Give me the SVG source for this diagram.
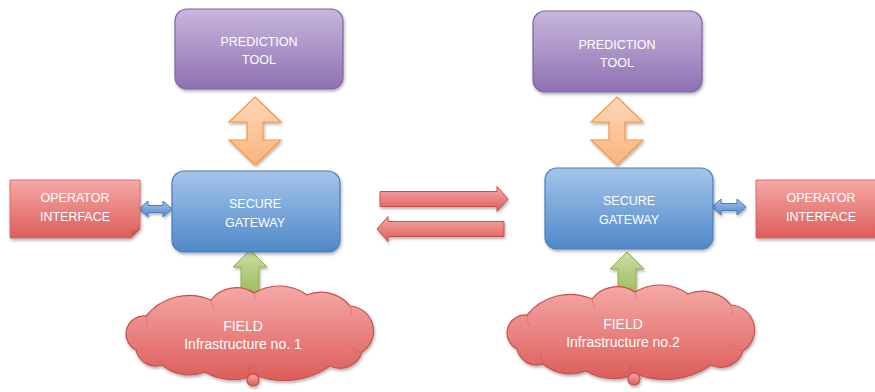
<svg xmlns="http://www.w3.org/2000/svg" width="875" height="392" viewBox="0 0 875 392">
  <defs>
    <linearGradient id="gPurple" x1="0" y1="0" x2="0" y2="1">
      <stop offset="0" stop-color="#c8b7dc"/>
      <stop offset="1" stop-color="#8e70b3"/>
    </linearGradient>
    <linearGradient id="gBlue" x1="0" y1="0" x2="0" y2="1">
      <stop offset="0" stop-color="#a5c5ea"/>
      <stop offset="1" stop-color="#4f88c9"/>
    </linearGradient>
    <linearGradient id="gRed" x1="0" y1="0" x2="0" y2="1">
      <stop offset="0" stop-color="#f5a9a7"/>
      <stop offset="1" stop-color="#dc5d5a"/>
    </linearGradient>
    <linearGradient id="gOrange" x1="0" y1="0" x2="0" y2="1">
      <stop offset="0" stop-color="#fdd8b8"/>
      <stop offset="1" stop-color="#f9b47e"/>
    </linearGradient>
    <linearGradient id="gGreen" x1="0" y1="0" x2="0" y2="1">
      <stop offset="0" stop-color="#cadda3"/>
      <stop offset="1" stop-color="#9cbc5a"/>
    </linearGradient>
    <filter id="shadow" x="-10%" y="-10%" width="130%" height="140%">
      <feDropShadow dx="1" dy="2" stdDeviation="1.5" flood-color="#000" flood-opacity="0.3"/>
    </filter>
    <!-- cloud outline, drawn for the left field site and reused for the right one -->
    <path id="cloudShape" d="M136,350 A18,18 0 0 1 146,316 A55,55 0 0 1 211,300 A32,32 0 0 1 254,293 A48,48 0 0 1 307,295 A37,37 0 0 1 350,306 A25,25 0 0 1 362,352 A23,23 0 0 1 330,366 A80,80 0 0 1 255,375 A55,55 0 0 1 205,372 A43,43 0 0 1 162,365 A20,20 0 0 1 136,350 Z"/>
  </defs>
  <style>
    .lbl { font-family: "Liberation Sans", Arial, sans-serif; font-size: 12.5px; fill: #ffffff; text-anchor: middle; }
    .lbl2 { font-family: "Liberation Sans", Arial, sans-serif; font-size: 14px; fill: #ffffff; text-anchor: middle; }
    .pred { fill: url(#gPurple); stroke: #8064a2; stroke-width: 1.2; filter: url(#shadow); }
    .gw { fill: url(#gBlue); stroke: #4a7ebb; stroke-width: 1.2; filter: url(#shadow); }
    .op { fill: url(#gRed); stroke: #d0615d; stroke-width: 0.8; filter: url(#shadow); }
    .cloud { fill: url(#gRed); stroke: #c9504c; stroke-width: 1.2; filter: url(#shadow); }
    .inner { fill: none; stroke: #c9504c; stroke-width: 0.8; stroke-opacity: 0.45; }
    .arrOrange { fill: url(#gOrange); stroke: #f79646; stroke-width: 1.2; filter: url(#shadow); }
    .arrGreen { fill: url(#gGreen); stroke: #8fb04e; stroke-width: 1; filter: url(#shadow); }
    .arrBlue { fill: url(#gBlue); stroke: #4a7ebb; stroke-width: 1; filter: url(#shadow); }
    .arrRed { fill: url(#gRed); stroke: #c9504c; stroke-width: 1; filter: url(#shadow); }
  </style>

  <!-- connectors -->
  <g id="connectors">
    <!-- prediction tool <-> gateway -->
    <path class="arrOrange" d="M255,97 L281,122 L263,122 L263,140 L281,140 L255,165 L229,140 L247,140 L247,122 L229,122 Z"/>
    <path class="arrOrange" d="M617,97 L643,122 L625,122 L625,140 L643,140 L617,165 L591,140 L609,140 L609,122 L591,122 Z"/>
    <!-- field -> gateway -->
    <path class="arrGreen" d="M250,250 L267,267 L259,267 L259,295 L241,295 L241,267 L233,267 Z"/>
    <path class="arrGreen" d="M627,252 L644,269 L636,269 L636,295 L618,295 L618,269 L610,269 Z"/>
    <!-- operator interface <-> gateway -->
    <path class="arrBlue" d="M139,209 L148,201 L148,205.5 L163,205.5 L163,201 L172,209 L163,217 L163,212.5 L148,212.5 L148,217 Z"/>
    <path class="arrBlue" d="M712,207 L721,199 L721,203.5 L737,203.5 L737,199 L746,207 L737,215 L737,210.5 L721,210.5 L721,215 Z"/>
    <!-- gateway <-> gateway -->
    <path class="arrRed" d="M380,191.5 L497,191.5 L497,186.5 L508,199 L497,211.5 L497,206.5 L380,206.5 Z"/>
    <path class="arrRed" d="M504,221.5 L388,221.5 L388,216.5 L377,229 L388,241.5 L388,236.5 L504,236.5 Z"/>
  </g>

  <g id="prediction-tool-1">
    <rect class="pred" x="175" y="9" width="168" height="80" rx="12"/>
    <text class="lbl" x="259" y="46">PREDICTION</text>
    <text class="lbl" x="259" y="64">TOOL</text>
  </g>

  <g id="prediction-tool-2">
    <rect class="pred" x="533" y="11" width="169" height="81" rx="12"/>
    <text class="lbl" x="617" y="49">PREDICTION</text>
    <text class="lbl" x="617" y="67">TOOL</text>
  </g>

  <g id="secure-gateway-1">
    <rect class="gw" x="172" y="171" width="168" height="81" rx="12"/>
    <text class="lbl" x="255" y="208">SECURE</text>
    <text class="lbl" x="255" y="227">GATEWAY</text>
  </g>

  <g id="secure-gateway-2">
    <rect class="gw" x="545" y="168" width="168" height="81" rx="12"/>
    <text class="lbl" x="629" y="205">SECURE</text>
    <text class="lbl" x="629" y="224">GATEWAY</text>
  </g>

  <g id="operator-interface-1">
    <path class="op" d="M10,180 H140 V229 L131,238 H10 Z"/>
    <path d="M131,238 L133,230 L140,229 Z" fill="#c8524e" opacity="0.8"/>
    <text class="lbl" x="75" y="202">OPERATOR</text>
    <text class="lbl" x="75" y="221">INTERFACE</text>
  </g>

  <g id="operator-interface-2">
    <path class="op" d="M756,180 H890 V238 H756 Z"/>
    <text class="lbl" x="821" y="202">OPERATOR</text>
    <text class="lbl" x="821" y="221">INTERFACE</text>
  </g>

  <g id="field-1">
    <use href="#cloudShape" class="cloud"/>
    <circle class="cloud" cx="253" cy="380" r="6"/>
    <path class="inner" d="M146,316 A20,20 0 0 0 148,326 M211,300 A30,30 0 0 0 214,310 M254,293 A30,30 0 0 0 256,300 M350,306 A26,26 0 0 1 352,316 M362,352 A22,22 0 0 1 348,343 M255,375 A12,12 0 0 1 248,366 M162,365 A22,22 0 0 1 160,355"/>
    <circle class="inner" cx="253" cy="370" r="4"/>
    <text class="lbl2" x="243" y="331">FIELD</text>
    <text class="lbl2" x="243" y="349">Infrastructure no. 1</text>
  </g>

  <g id="field-2">
    <g transform="translate(381,-1)">
      <use href="#cloudShape" class="cloud"/>
      <circle class="cloud" cx="253" cy="380" r="6"/>
      <path class="inner" d="M146,316 A20,20 0 0 0 148,326 M211,300 A30,30 0 0 0 214,310 M254,293 A30,30 0 0 0 256,300 M350,306 A26,26 0 0 1 352,316 M362,352 A22,22 0 0 1 348,343 M255,375 A12,12 0 0 1 248,366 M162,365 A22,22 0 0 1 160,355"/>
      <circle class="inner" cx="253" cy="370" r="4"/>
    </g>
    <text class="lbl2" x="623" y="329">FIELD</text>
    <text class="lbl2" x="623" y="347">Infrastructure no.2</text>
  </g>
</svg>
